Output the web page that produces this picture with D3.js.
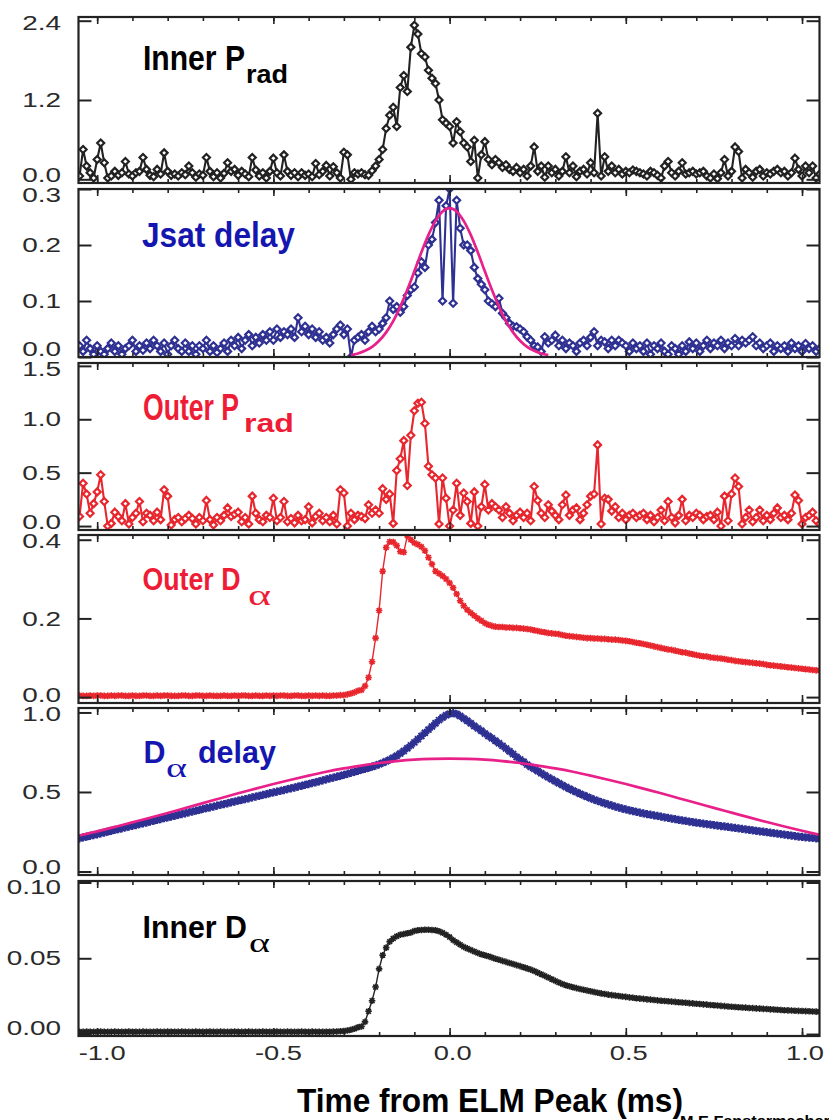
<!DOCTYPE html>
<html><head><meta charset="utf-8">
<script src="https://cdn.jsdelivr.net/npm/d3@7"></script>
<style>body{margin:0;background:#fff}svg{display:block}</style>
</head><body>
<svg id="chart" width="829" height="1120"></svg>
<script>
// ---------- DATA (time grid starts at -1.05 ms, step 0.01 ms) ----------
const tStart = -1.05, tStep = 0.01;

const innerPrad = [
0.05,0.45,0.2,0.1,0.02,0.3,0.55,0.25,0.02,0.05,
0.12,0.06,0.1,0.27,0.08,0.05,0.1,0.12,0.33,0.15,
0.06,0.04,0.15,0.08,0.4,0.12,0.06,0.08,0.05,0.1,
0.07,0.2,0.1,0.03,0.08,0.06,0.33,0.12,0.04,0.1,
0.02,0.09,0.25,0.12,0.15,0.06,0.12,0.08,0.04,0.33,
0.14,0.05,0.1,0.02,0.12,0.32,0.1,0.05,0.37,0.12,
0.06,0.1,0.04,0.1,0.06,0.08,0.04,0.24,0.07,0.12,
0.21,0.05,0.19,0.1,0.02,0.41,0.37,0.0,0.1,0.08,
0.1,0.07,0.06,0.13,0.2,0.3,0.45,0.77,0.97,1.09,
0.8,1.39,1.57,1.33,2.0,2.33,2.2,1.9,1.85,1.65,
1.53,1.45,1.2,0.9,0.85,0.8,0.55,0.87,0.72,0.55,
0.49,0.27,0.59,0.02,0.37,0.57,0.3,0.22,0.3,0.25,
0.18,0.22,0.15,0.12,0.18,0.1,0.15,0.05,0.2,0.49,
0.12,0.2,0.03,0.2,0.1,0.15,0.05,0.12,0.34,0.1,
0.2,0.04,0.12,0.15,0.08,0.25,0.1,1.0,0.05,0.34,
0.12,0.2,0.1,0.15,0.08,0.12,0.1,0.14,0.12,0.1,
0.08,0.05,0.12,0.1,0.06,0.02,0.2,0.27,0.1,0.05,
0.12,0.25,0.08,0.1,0.12,0.08,0.1,0.12,0.05,0.02,
0.08,0.01,0.1,0.3,0.05,0.12,0.49,0.42,0.02,0.15,
0.1,0.03,0.12,0.15,0.05,0.1,0.08,0.12,0.15,0.1,
0.12,0.05,0.1,0.32,0.15,0.05,0.2,0.1,0.2,0.02,
0.08];

const jsatDelay = [
0.02,0.01,0.03,0.015,0.005,0.02,0.01,0.005,0.015,0.025,
0.01,0.02,0.005,0.015,0.02,0.03,0.01,0.02,0.012,0.025,
0.015,0.03,0.02,0.01,0.025,0.005,0.02,0.03,0.015,0.01,
0.025,0.01,0.02,0.005,0.02,0.015,0.03,0.01,0.02,0.008,
0.015,0.025,0.01,0.03,0.02,0.035,0.015,0.03,0.04,0.02,
0.035,0.025,0.04,0.03,0.045,0.03,0.05,0.035,0.045,0.04,
0.05,0.035,0.07,0.045,0.055,0.04,0.05,0.035,0.045,0.03,
0.035,0.025,0.04,0.05,0.057,0.04,0.05,0.0,0.03,0.035,
0.04,0.03,0.045,0.055,0.045,0.05,0.06,0.07,0.1,0.085,
0.09,0.08,0.09,0.11,0.12,0.125,0.15,0.17,0.16,0.2,
0.21,0.24,0.28,0.1,0.27,0.3,0.096,0.28,0.23,0.2,
0.2,0.19,0.16,0.14,0.13,0.12,0.1,0.095,0.09,0.105,
0.078,0.07,0.06,0.055,0.054,0.05,0.045,0.036,0.03,0.02,
0.018,0.01,0.036,0.025,0.03,0.039,0.02,0.03,0.015,0.025,
0.02,0.01,0.025,0.03,0.02,0.035,0.045,0.02,0.03,0.027,
0.015,0.03,0.02,0.03,0.025,0.02,0.01,0.025,0.015,0.02,
0.01,0.025,0.005,0.02,0.015,0.025,0.01,0.005,0.02,0.015,
0.005,0.02,0.01,0.027,0.015,0.025,0.01,0.02,0.03,0.015,
0.025,0.02,0.03,0.015,0.025,0.02,0.033,0.02,0.03,0.025,
0.03,0.036,0.02,0.025,0.015,0.02,0.025,0.01,0.02,0.015,
0.02,0.01,0.025,0.015,0.02,0.01,0.024,0.015,0.02,0.01,
0.015];

const outerPrad = [
0.09,0.4,0.3,0.12,0.21,0.32,0.48,0.23,0.0,0.025,
0.13,0.09,0.05,0.21,0.02,0.08,0.12,0.23,0.04,0.12,
0.1,0.05,0.13,0.06,0.34,0.28,0.01,0.06,0.08,0.04,
0.07,0.1,0.07,0.02,0.08,0.05,0.24,0.06,0.01,0.08,
0.05,0.1,0.17,0.09,0.11,0.13,0.04,0.08,0.02,0.28,
0.12,0.06,0.04,0.1,0.08,0.26,0.05,0.08,0.23,0.04,
0.07,0.03,0.1,0.05,0.06,0.18,0.03,0.09,0.12,0.05,
0.08,0.04,0.1,0.02,0.34,0.31,0.0,0.12,0.06,0.1,
0.09,0.07,0.2,0.12,0.15,0.12,0.35,0.25,0.3,0.025,
0.52,0.63,0.8,0.38,0.85,1.08,1.15,1.16,0.96,0.56,
0.48,0.45,0.02,0.45,0.26,0.0,0.15,0.4,0.1,0.31,
0.23,0.025,0.32,0.0,0.18,0.39,0.15,0.21,0.18,0.15,
0.08,0.18,0.12,0.05,0.1,0.13,0.08,0.12,0.05,0.37,
0.24,0.12,0.08,0.2,0.14,0.1,0.06,0.2,0.29,0.1,
0.15,0.17,0.06,0.12,0.2,0.28,0.3,0.76,0.02,0.26,
0.25,0.14,0.18,0.08,0.12,0.06,0.1,0.12,0.08,0.1,
0.12,0.06,0.1,0.04,0.08,0.15,0.05,0.23,0.08,0.03,
0.1,0.25,0.05,0.1,0.08,0.12,0.1,0.06,0.09,0.1,
0.06,0.13,0.0,0.28,0.05,0.3,0.45,0.37,0.02,0.08,
0.15,0.04,0.08,0.15,0.05,0.1,0.06,0.12,0.17,0.08,
0.1,0.06,0.12,0.29,0.24,0.02,0.08,0.1,0.13,0.05,
0.02];

const outerDalpha = [
0.004,0.003,0.003,0.004,0.003,0.004,0.004,0.003,0.003,0.004,
0.003,0.004,0.004,0.003,0.003,0.004,0.003,0.003,0.004,0.004,
0.003,0.003,0.004,0.003,0.004,0.004,0.003,0.003,0.003,0.004,
0.004,0.003,0.003,0.004,0.004,0.003,0.003,0.004,0.003,0.003,
0.003,0.004,0.003,0.003,0.004,0.003,0.004,0.004,0.003,0.003,
0.004,0.003,0.003,0.004,0.003,0.004,0.003,0.004,0.004,0.003,
0.003,0.004,0.004,0.003,0.003,0.004,0.003,0.004,0.003,0.004,
0.003,0.003,0.004,0.004,0.005,0.005,0.007,0.009,0.012,0.016,
0.018,0.028,0.05,0.09,0.15,0.22,0.32,0.38,0.395,0.394,
0.385,0.37,0.368,0.41,0.4,0.392,0.388,0.382,0.372,0.355,
0.338,0.32,0.314,0.308,0.3,0.29,0.278,0.262,0.245,0.232,
0.222,0.214,0.207,0.2,0.194,0.188,0.184,0.181,0.179,0.178,
0.178,0.177,0.177,0.176,0.176,0.175,0.174,0.173,0.172,0.17,
0.168,0.166,0.165,0.163,0.162,0.161,0.16,0.158,0.156,0.155,
0.154,0.153,0.152,0.151,0.15,0.15,0.149,0.149,0.148,0.148,
0.147,0.146,0.146,0.145,0.144,0.143,0.142,0.14,0.138,0.137,
0.135,0.133,0.131,0.129,0.127,0.125,0.123,0.121,0.12,0.118,
0.116,0.114,0.113,0.111,0.109,0.107,0.105,0.104,0.103,0.101,
0.1,0.099,0.098,0.097,0.095,0.094,0.092,0.091,0.09,0.089,
0.088,0.087,0.086,0.085,0.084,0.082,0.081,0.08,0.079,0.078,
0.077,0.076,0.075,0.074,0.073,0.072,0.071,0.07,0.069,0.068,
0.068];

const dalphaDelay = [
0.209,0.214,0.219,0.224,0.229,0.234,0.24,0.245,0.25,0.256,
0.261,0.266,0.271,0.277,0.282,0.287,0.292,0.298,0.303,0.308,
0.314,0.319,0.324,0.33,0.335,0.34,0.345,0.35,0.356,0.361,
0.366,0.372,0.377,0.382,0.387,0.393,0.398,0.403,0.408,0.414,
0.419,0.424,0.429,0.435,0.44,0.445,0.45,0.455,0.46,0.466,
0.471,0.476,0.481,0.486,0.492,0.497,0.502,0.507,0.512,0.518,
0.523,0.528,0.534,0.539,0.545,0.55,0.556,0.561,0.567,0.573,
0.579,0.585,0.59,0.596,0.602,0.608,0.614,0.62,0.627,0.633,
0.64,0.646,0.652,0.659,0.666,0.674,0.683,0.693,0.703,0.715,
0.728,0.742,0.758,0.775,0.793,0.812,0.832,0.852,0.872,0.892,
0.912,0.932,0.952,0.968,0.982,0.992,0.996,0.99,0.978,0.962,
0.948,0.932,0.915,0.9,0.885,0.868,0.852,0.838,0.822,0.806,
0.79,0.773,0.756,0.739,0.72,0.705,0.69,0.672,0.658,0.645,
0.632,0.618,0.605,0.592,0.58,0.567,0.555,0.543,0.531,0.52,
0.509,0.499,0.489,0.479,0.47,0.461,0.452,0.444,0.436,0.429,
0.422,0.415,0.408,0.402,0.396,0.39,0.385,0.38,0.375,0.37,
0.365,0.361,0.357,0.353,0.349,0.345,0.341,0.337,0.333,0.329,
0.325,0.321,0.318,0.314,0.311,0.307,0.304,0.301,0.298,0.295,
0.292,0.289,0.286,0.283,0.28,0.277,0.274,0.271,0.268,0.265,
0.262,0.259,0.256,0.253,0.25,0.247,0.244,0.241,0.238,0.235,
0.232,0.229,0.226,0.223,0.22,0.217,0.215,0.213,0.211,0.209,
0.207];

const innerDalpha = [
0.0015,0.0014,0.0016,0.0015,0.0014,0.0015,0.0016,0.0015,0.0014,0.0015,
0.0016,0.0015,0.0014,0.0015,0.0016,0.0015,0.0015,0.0014,0.0016,0.0015,
0.0014,0.0015,0.0016,0.0015,0.0014,0.0016,0.0015,0.0015,0.0014,0.0016,
0.0015,0.0014,0.0015,0.0016,0.0015,0.0014,0.0015,0.0016,0.0015,0.0014,
0.0016,0.0015,0.0014,0.0015,0.0016,0.0015,0.0014,0.0015,0.0016,0.0015,
0.0014,0.0015,0.0016,0.0015,0.0014,0.0015,0.0016,0.0015,0.0014,0.0016,
0.0015,0.0014,0.0015,0.0016,0.0015,0.0014,0.0016,0.0015,0.0015,0.0014,
0.0015,0.0015,0.0016,0.0017,0.0018,0.002,0.0023,0.0028,0.0035,0.0045,
0.005,0.008,0.015,0.022,0.031,0.043,0.052,0.057,0.061,0.063,
0.0645,0.0655,0.066,0.0665,0.067,0.068,0.0685,0.0687,0.0688,0.0688,
0.0687,0.0685,0.0678,0.0668,0.0655,0.064,0.062,0.0605,0.059,0.0575,
0.0565,0.0555,0.0545,0.0535,0.0527,0.052,0.0513,0.0505,0.0497,0.049,
0.0483,0.0476,0.0469,0.0462,0.0455,0.0448,0.0441,0.0433,0.0425,0.0416,
0.0405,0.0395,0.0384,0.0373,0.0362,0.0351,0.034,0.033,0.0322,0.0315,
0.0309,0.0303,0.0297,0.0292,0.0287,0.0282,0.0277,0.0272,0.0268,0.0264,
0.026,0.0257,0.0254,0.0251,0.0248,0.0245,0.0242,0.0239,0.0236,0.0234,
0.0232,0.0229,0.0227,0.0225,0.0222,0.022,0.0218,0.0216,0.0214,0.0212,
0.021,0.0208,0.0206,0.0204,0.0202,0.02,0.0198,0.0196,0.0194,0.0192,
0.019,0.0188,0.0186,0.0184,0.0182,0.018,0.0178,0.0177,0.0175,0.0174,
0.0172,0.0171,0.0169,0.0168,0.0166,0.0165,0.0163,0.0162,0.016,0.0159,
0.0157,0.0156,0.0155,0.0154,0.0153,0.0152,0.0151,0.015,0.0149,0.0148,
0.0147];

// Gaussian fits (magenta)
const jsatFitT = [-0.28,-0.26,-0.24,-0.22,-0.20,-0.18,-0.16,-0.14,-0.12,-0.10,-0.08,-0.06,-0.04,-0.02,0,
                  0.02,0.04,0.06,0.08,0.10,0.12,0.14,0.16,0.18,0.20,0.22,0.24,0.26,0.28];
const jsatFitV = [0.0035,0.0063,0.011,0.018,0.029,0.044,0.064,0.090,0.120,0.153,0.187,0.218,0.243,0.260,0.266,
                  0.260,0.243,0.218,0.187,0.153,0.120,0.090,0.064,0.044,0.029,0.018,0.011,0.0063,0.0035];
const dalphaFitT = [-1.05,-1.0,-0.95,-0.9,-0.85,-0.8,-0.75,-0.7,-0.65,-0.6,-0.55,-0.5,-0.45,-0.4,-0.35,-0.3,-0.25,-0.2,-0.15,-0.1,-0.05,0,
                    0.05,0.1,0.15,0.2,0.25,0.3,0.35,0.4,0.45,0.5,0.55,0.6,0.65,0.7,0.75,0.8,0.85,0.9,0.95,1.0,1.05];
const dalphaFitV = [0.226,0.252,0.280,0.309,0.338,0.368,0.399,0.430,0.461,0.492,0.521,0.550,0.577,0.603,0.627,0.648,0.666,0.682,0.694,0.703,0.708,0.710,
                    0.708,0.703,0.694,0.682,0.666,0.648,0.627,0.603,0.577,0.550,0.521,0.492,0.461,0.431,0.400,0.370,0.340,0.311,0.283,0.256,0.231];

// Tick values / labels
const xMajorTicks = [-1.0,-0.5,0.0,0.5,1.0];
const xMajorLabels = ["-1.0","-0.5","0.0","0.5","1.0"];
const yTicks1 = [0, 1.2, 2.4],       yLabels1 = ["0.0","1.2","2.4"];
const yTicks2 = [0, 0.1, 0.2, 0.3],  yLabels2 = ["0.0","0.1","0.2","0.3"];
const yTicks3 = [0, 0.5, 1.0, 1.5],  yLabels3 = ["0.0","0.5","1.0","1.5"];
const yTicks4 = [0, 0.2, 0.4],       yLabels4 = ["0.0","0.2","0.4"];
const yTicks5 = [0, 0.5, 1.0],       yLabels5 = ["0.0","0.5","1.0"];
const yTicks6 = [0, 0.05, 0.10],     yLabels6 = ["0.00","0.05","0.10"];

const xTitle = "Time from ELM Peak (ms)";
const credit = "M.E Fenstermacher";

// ---------- LAYOUT ----------
const svg = d3.select("#chart");
const X0 = 78.5, X1 = 819.5;
const x = d3.scaleLinear().domain([-1.053, 1.0496]).range([X0, X1]);
const times = innerPrad.map((_, i) => +(tStart + i * tStep).toFixed(2));

const BLACK = "#222", BLUE = "#2e3192", RED = "#e8262d", PINK = "#e8218a";
const LBLUE = "#1515b0", LRED = "#ef1c36";
const SANS = "Liberation Sans, Arial, sans-serif";
const SERIF = "Liberation Serif, DejaVu Serif, serif";

const panels = [
  {vals: innerPrad, top: 17, bot: 183, dom: [-0.056, 2.456], ticks: yTicks1, labels: yLabels1, color: BLACK, marker: "diamond",
   title: [{t:"Inner P", x:143, y:70, s:36, w:102, c:"#000"}, {t:"rad", x:246, y:83, s:26, w:42, c:"#000"}]},
  {vals: jsatDelay, top: 189, bot: 357, dom: [0, 0.3], ticks: yTicks2, labels: yLabels2, color: BLUE, marker: "diamond",
   fit: [jsatFitT, jsatFitV],
   title: [{t:"Jsat delay", x:142, y:247, s:35, w:153, c:LBLUE}]},
  {vals: outerPrad, top: 363, bot: 530, dom: [-0.037, 1.527], ticks: yTicks3, labels: yLabels3, color: RED, marker: "diamond",
   title: [{t:"Outer P", x:143, y:420, s:37, w:96, c:LRED}, {t:"rad", x:244, y:432, s:26, w:50, c:LRED}]},
  {vals: outerDalpha, top: 535, bot: 703, dom: [-0.015, 0.412], ticks: yTicks4, labels: yLabels4, color: RED, marker: "star", ms: 1,
   title: [{t:"Outer D", x:142.5, y:590, s:32, w:98, c:LRED}, {t:"α", x:248, y:605, s:30, w:23, c:LRED, serif:true}]},
  {vals: dalphaDelay, top: 708, bot: 875, dom: [-0.022, 1.028], ticks: yTicks5, labels: yLabels5, color: BLUE, marker: "star", ms: 1.25,
   fit: [dalphaFitT, dalphaFitV],
   title: [{t:"D", x:143.5, y:763, s:31, w:22, c:LBLUE}, {t:"α", x:166, y:777, s:28, w:21, c:LBLUE, serif:true},
           {t:"delay", x:198, y:763, s:31, w:78, c:LBLUE}]},
  {vals: innerDalpha, top: 881, bot: 1036, dom: [-0.0013, 0.101], ticks: yTicks6, labels: yLabels6, color: BLACK, marker: "star", ms: 1,
   title: [{t:"Inner D", x:142.5, y:938, s:31, w:104.5, c:"#000"}, {t:"α", x:249, y:952, s:28, w:21, c:"#000", serif:true}]}
];

const diamondPath = "M0,-3.5L3.5,0L0,3.5L-3.5,0Z";
const starPath = k => `M${-3.3*k},0H${3.3*k}M0,${-3.3*k}V${3.3*k}M${-2.4*k},${-2.4*k}L${2.4*k},${2.4*k}M${-2.4*k},${2.4*k}L${2.4*k},${-2.4*k}`;
const xMinor = d3.range(-10, 11).map(d => d / 10);

// helper: text squeezed/stretched horizontally to a target width
function fitText(str, xx, yy, size, width, opts) {
  const t = svg.append("text").text(str).attr("x", 0).attr("y", 0)
    .attr("font-family", opts.family).attr("font-weight", opts.weight || "normal")
    .attr("font-size", size).attr("fill", opts.fill);
  const nat = t.node().getComputedTextLength() || width;
  t.attr("transform", `translate(${xx},${yy}) scale(${(width / nat).toFixed(4)},1)`);
  return t;
}

panels.forEach((p, pi) => {
  const y = d3.scaleLinear().domain(p.dom).range([p.bot, p.top]);
  const g = svg.append("g");
  const clipId = "clip" + pi;
  svg.append("clipPath").attr("id", clipId).append("rect")
     .attr("x", X0).attr("y", p.top).attr("width", X1 - X0).attr("height", p.bot - p.top);
  const data = p.vals.map((v, i) => ({t: times[i], v}));
  const plot = g.append("g").attr("clip-path", `url(#${clipId})`);

  const line = d3.line().x(d => x(d.t)).y(d => y(d.v));
  const fitLine = d3.line().x(d => x(d[0])).y(d => y(d[1])).curve(d3.curveMonotoneX);

  const isStar = p.marker === "star";
  plot.append("path").datum(data).attr("d", line)
      .attr("fill", "none").attr("stroke", p.color).attr("stroke-width", isStar ? 1.4 : 2.1)
      .attr("stroke-linejoin", "round");
  plot.selectAll("path.mk").data(data).join("path").attr("class", "mk")
      .attr("d", isStar ? starPath(p.ms) : diamondPath)
      .attr("transform", d => `translate(${x(d.t)},${y(d.v)})`)
      .attr("fill", isStar ? "none" : "#fff")
      .attr("stroke", p.color).attr("stroke-width", isStar ? 1.6 * p.ms : 2.2);

  if (p.fit) {
    const fd = p.fit[0].map((t, i) => [t, p.fit[1][i]]);
    plot.append("path").datum(fd).attr("d", fitLine)
        .attr("fill", "none").attr("stroke", PINK).attr("stroke-width", 2.7);
  }

  // x ticks top & bottom (inside)
  const xMinorBottom = d3.axisBottom(x).tickValues(xMinor).tickSize(-4).tickFormat("");
  const xMajorBottom = d3.axisBottom(x).tickValues(xMajorTicks).tickSize(-8).tickFormat("");
  const xMinorTop = d3.axisTop(x).tickValues(xMinor).tickSize(-4).tickFormat("");
  const xMajorTop = d3.axisTop(x).tickValues(xMajorTicks).tickSize(-7).tickFormat("");
  [[xMinorBottom, p.bot], [xMajorBottom, p.bot], [xMinorTop, p.top], [xMajorTop, p.top]].forEach(([ax, yy]) => {
    const a = g.append("g").attr("transform", `translate(0,${yy})`).call(ax);
    a.select(".domain").remove();
    a.selectAll("line").attr("stroke", "#222").attr("stroke-width", 1.6);
  });
  // y ticks left & right (inside)
  const yl = g.append("g").attr("transform", `translate(${X0},0)`).call(d3.axisLeft(y).tickValues(p.ticks).tickSize(-13).tickFormat(""));
  const yr = g.append("g").attr("transform", `translate(${X1},0)`).call(d3.axisRight(y).tickValues(p.ticks).tickSize(-13).tickFormat(""));
  [yl, yr].forEach(a => { a.select(".domain").remove(); a.selectAll("line").attr("stroke", "#222").attr("stroke-width", 2); });

  // y tick labels
  p.ticks.forEach((tv, i) => {
    const cy = Math.max(p.top + 6, Math.min(p.bot - 8, y(tv)));
    svg.append("text").text(p.labels[i])
       .attr("transform", `translate(61,${cy}) scale(1.33,1)`)
       .attr("text-anchor", "end").attr("dominant-baseline", "central")
       .attr("font-family", SANS).attr("font-size", 21)
       .attr("fill", "#2a2a2a");
  });

  // frame
  g.append("rect").attr("x", X0).attr("y", p.top).attr("width", X1 - X0).attr("height", p.bot - p.top)
   .attr("fill", "none").attr("stroke", "#222").attr("stroke-width", 2.2);

  // panel title
  p.title.forEach(o => {
    fitText(o.t, o.x, o.y, o.s, o.w, {family: o.serif ? SERIF : SANS, weight: o.serif ? "normal" : "bold", fill: o.c});
  });
});

// x tick labels
xMajorTicks.forEach((tv, i) => {
  svg.append("text").text(xMajorLabels[i])
     .attr("transform", `translate(${x(tv) + (tv < 0 ? 5 : 3)},1060) scale(1.3,1)`)
     .attr("text-anchor", "middle")
     .attr("font-family", SANS).attr("font-size", 21).attr("fill", "#2a2a2a");
});

// axis title + credit
fitText(xTitle, 297, 1112, 34, 386, {family: SANS, weight: "bold", fill: "#000"});
fitText(credit, 680, 1126, 14, 150, {family: SANS, weight: "bold", fill: "#000"});
</script>
</body></html>
